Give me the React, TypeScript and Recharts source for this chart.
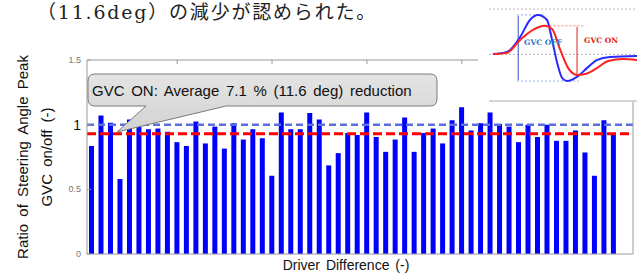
import {
  BarChart,
  Bar,
  XAxis,
  YAxis,
  ReferenceLine,
  LineChart,
  Line,
  CartesianGrid,
} from "recharts";

// driver index and ratio of steering angle peak (GVC on / off)
const drivers = [
  1, 2, 3, 4, 5, 6, 7, 8, 9, 10, 11, 12, 13, 14, 15, 16, 17, 18, 19, 20,
  21, 22, 23, 24, 25, 26, 27, 28, 29, 30, 31, 32, 33, 34, 35, 36, 37, 38, 39, 40,
  41, 42, 43, 44, 45, 46, 47, 48, 49, 50, 51, 52, 53, 54, 55, 56,
];
const ratios = [
  0.835, 1.07, 1.015, 0.58, 1.04, 0.985, 0.965, 0.97, 0.945, 0.865,
  0.835, 1.025, 0.855, 0.985, 0.815, 1.01, 0.885, 0.965, 0.895, 0.605,
  1.095, 0.965, 0.965, 1.09, 1.04, 0.685, 0.78, 0.935, 0.92, 1.095,
  0.905, 0.79, 0.885, 1.055, 0.79, 0.935, 0.97, 0.855, 1.035, 1.135,
  0.955, 1.01, 1.095, 1.005, 0.985, 0.865, 1.0, 0.905, 1.0, 0.875,
  0.875, 0.955, 0.785, 0.605, 1.035, 0.925,
];
const yTicks = [0, 0.5, 1, 1.5];
const topTicks = [10, 20, 30, 40, 50];
const offLevel = 1.0;
const onAverage = 0.929;

// inset: steering angle time history (normalised)
const offTime = [0.1, 0.46, 0.8, 1.05, 1.26, 1.49, 1.62, 1.75, 1.88, 2.01, 2.26, 2.52, 2.78, 3.11, 3.8];
const offAngle = [0.02, 0.11, 0.77, 1.52, 1.74, 1.52, 0.64, -0.37, -1.04, -1.17, -0.99, -0.59, -0.24, -0.11, -0.07];
const onTime = [0.1, 0.46, 0.8, 1.13, 1.44, 1.62, 1.83, 2.03, 2.26, 2.47, 2.78, 3.06, 3.44, 3.8];
const onAngle = [0.02, 0.07, 0.64, 1.08, 1.26, 1.12, 0.2, -0.59, -0.9, -0.86, -0.59, -0.29, -0.2, -0.24];

const barData = drivers.map((d, i) => ({ driver: d, ratio: ratios[i] }));
const offData = offTime.map((t, i) => ({ t, v: offAngle[i] }));
const onData = onTime.map((t, i) => ({ t, v: onAngle[i] }));

const FRAME = "#9a9a9a";
const SANS = "'Liberation Sans', Arial, sans-serif";

const LeftTick = (props: any) => {
  const { x, y, payload } = props;
  const big = payload.value === 1;
  return (
    <g>
      <line x1={x + 5} x2={x + 9} y1={y} y2={y} stroke={FRAME} />
      <text
        x={x - 1}
        y={y}
        textAnchor="end"
        dominantBaseline="central"
        fontFamily={SANS}
        fontSize={big ? 14 : 9}
        fill={big ? "#111" : "#777"}
      >
        {payload.value}
      </text>
    </g>
  );
};

const RightTick = (props: any) => (
  <line x1={props.x - 4} x2={props.x} y1={props.y} y2={props.y} stroke={FRAME} />
);

const TopTick = (props: any) => (
  <line x1={props.x} x2={props.x} y1={props.y} y2={props.y + 4} stroke={FRAME} />
);

function Inset() {
  return (
    <div style={{ position: "absolute", left: 478, top: 0, width: 159, height: 102, background: "#fff" }}>
      <LineChart width={159} height={102} margin={{ top: 0, right: 0, bottom: 0, left: 11 }}>
        <CartesianGrid vertical={false} horizontalValues={[-1, 0, 1, 2]} stroke="#bbb" strokeDasharray="2 2" />
        <CartesianGrid horizontal={false} verticalValues={[1, 2, 3]} stroke="#c8c8c8" />
        <XAxis
          type="number"
          dataKey="t"
          domain={[0, 3.8]}
          ticks={[1, 2, 3]}
          tick={false}
          tickLine={false}
          axisLine={{ stroke: "#aaa" }}
          height={1}
          allowDataOverflow
        />
        <YAxis type="number" domain={[-2.05, 2.4]} hide allowDataOverflow />
        <ReferenceLine segment={[{ x: 0.72, y: 1.74 }, { x: 1.45, y: 1.74 }]} stroke="#8fa8e8" strokeDasharray="2 2" />
        <ReferenceLine segment={[{ x: 0.72, y: -1.17 }, { x: 2.3, y: -1.17 }]} stroke="#8fa8e8" strokeDasharray="2 2" />
        <ReferenceLine segment={[{ x: 1.55, y: 1.26 }, { x: 2.45, y: 1.26 }]} stroke="#f08080" strokeDasharray="2 2" />
        <ReferenceLine segment={[{ x: 0.75, y: 1.7 }, { x: 0.75, y: -1.13 }]} stroke="#3050d0" />
        <ReferenceLine segment={[{ x: 2.26, y: 1.22 }, { x: 2.26, y: -0.86 }]} stroke="#e02020" />
        <Line data={offData} dataKey="v" type="monotone" stroke="#2a2aff" strokeWidth={2} dot={false} isAnimationActive={false} />
        <Line data={onData} dataKey="v" type="monotone" stroke="#ff2020" strokeWidth={2} dot={false} isAnimationActive={false} />
      </LineChart>
    </div>
  );
}

export default function App() {
  return (
    <div
      style={{
        position: "fixed",
        left: 0,
        top: 0,
        width: 637,
        height: 273,
        overflow: "hidden",
        background: "#fff",
      }}
    >
      <BarChart
        width={637}
        height={273}
        data={barData}
        margin={{ top: 59, right: 3, bottom: 18, left: 57 }}
        barSize={5}
      >
        <XAxis
          xAxisId="bottom"
          dataKey="driver"
          tick={false}
          tickLine={false}
          axisLine={{ stroke: FRAME }}
          height={1}
          padding={{ left: 0, right: 14.6 }}
        />
        <XAxis
          xAxisId="top"
          orientation="top"
          dataKey="driver"
          ticks={topTicks}
          interval={0}
          tickSize={0}
          tickMargin={0}
          tickLine={false}
          tick={(p: any) => <TopTick {...p} />}
          axisLine={{ stroke: FRAME }}
          height={1}
          padding={{ left: 0, right: 14.6 }}
        />
        <YAxis
          yAxisId="left"
          domain={[0, 1.5]}
          ticks={yTicks}
          width={30}
          tickSize={0}
          tickMargin={5}
          tickLine={false}
          tick={(p: any) => <LeftTick {...p} />}
          axisLine={{ stroke: FRAME }}
        />
        <YAxis
          yAxisId="right"
          orientation="right"
          domain={[0, 1.5]}
          ticks={yTicks}
          width={1}
          tickSize={0}
          tickMargin={0}
          tickLine={false}
          tick={(p: any) => <RightTick {...p} />}
          axisLine={{ stroke: FRAME }}
        />
        <Bar xAxisId="bottom" yAxisId="left" dataKey="ratio" fill="#0000ff" isAnimationActive={false} />
        <ReferenceLine xAxisId="bottom" yAxisId="left" y={offLevel} stroke="#5a6ee0" strokeWidth={2.5} strokeDasharray="7 4" />
        <ReferenceLine xAxisId="bottom" yAxisId="left" y={onAverage} stroke="#ff0000" strokeWidth={3} strokeDasharray="9 4" />
      </BarChart>

      <Inset />

      <svg
        width={637}
        height={273}
        style={{ position: "absolute", left: 0, top: 0, pointerEvents: "none" }}
      >
        <text
          x={37}
          y={19}
          fontFamily="'DejaVu Serif', 'Noto Sans CJK JP', serif"
          fontSize={19}
          letterSpacing={1.8}
          fill="#222"
        >
          （11.6deg）の減少が認められた。
        </text>

        <text
          transform="translate(22,157) rotate(-90)"
          textAnchor="middle"
          dominantBaseline="central"
          fontFamily={SANS}
          fontSize={15}
          wordSpacing={3}
          fill="#111"
        >
          Ratio of Steering Angle Peak
        </text>
        <text
          transform="translate(46,157) rotate(-90)"
          textAnchor="middle"
          dominantBaseline="central"
          fontFamily={SANS}
          fontSize={15}
          wordSpacing={3}
          fill="#111"
        >
          GVC on/off (-)
        </text>
        <text
          x={346}
          y={270}
          textAnchor="middle"
          fontFamily={SANS}
          fontSize={14}
          wordSpacing={2}
          fill="#111"
        >
          Driver Difference (-)
        </text>

        <defs>
          <linearGradient id="callout" x1="0" y1="0" x2="0" y2="1">
            <stop offset="0%" stopColor="#e4e4e4" />
            <stop offset="100%" stopColor="#d2d2d2" />
          </linearGradient>
        </defs>
        <path
          d="M 95 74 H 430 Q 437 74 437 81 V 99 Q 437 106 430 106 H 226 L 117 132 L 146 106 H 95 Q 88 106 88 99 V 81 Q 88 74 95 74 Z"
          fill="url(#callout)"
          stroke="#7a7a7a"
          strokeWidth={1}
        />
        <text x={92} y={96} fontFamily={SANS} fontSize={15} wordSpacing={2.5} fill="#111">
          GVC ON: Average 7.1 % (11.6 deg) reduction
        </text>

        <text x={524} y={45} fontFamily="'DejaVu Serif', serif" fontWeight="bold" fontSize={7.5} fill="#2a6fd0">
          GVC OFF
        </text>
        <text x={584} y={43} fontFamily="'DejaVu Serif', serif" fontWeight="bold" fontSize={7.5} fill="#e02020">
          GVC ON
        </text>
      </svg>
    </div>
  );
}
